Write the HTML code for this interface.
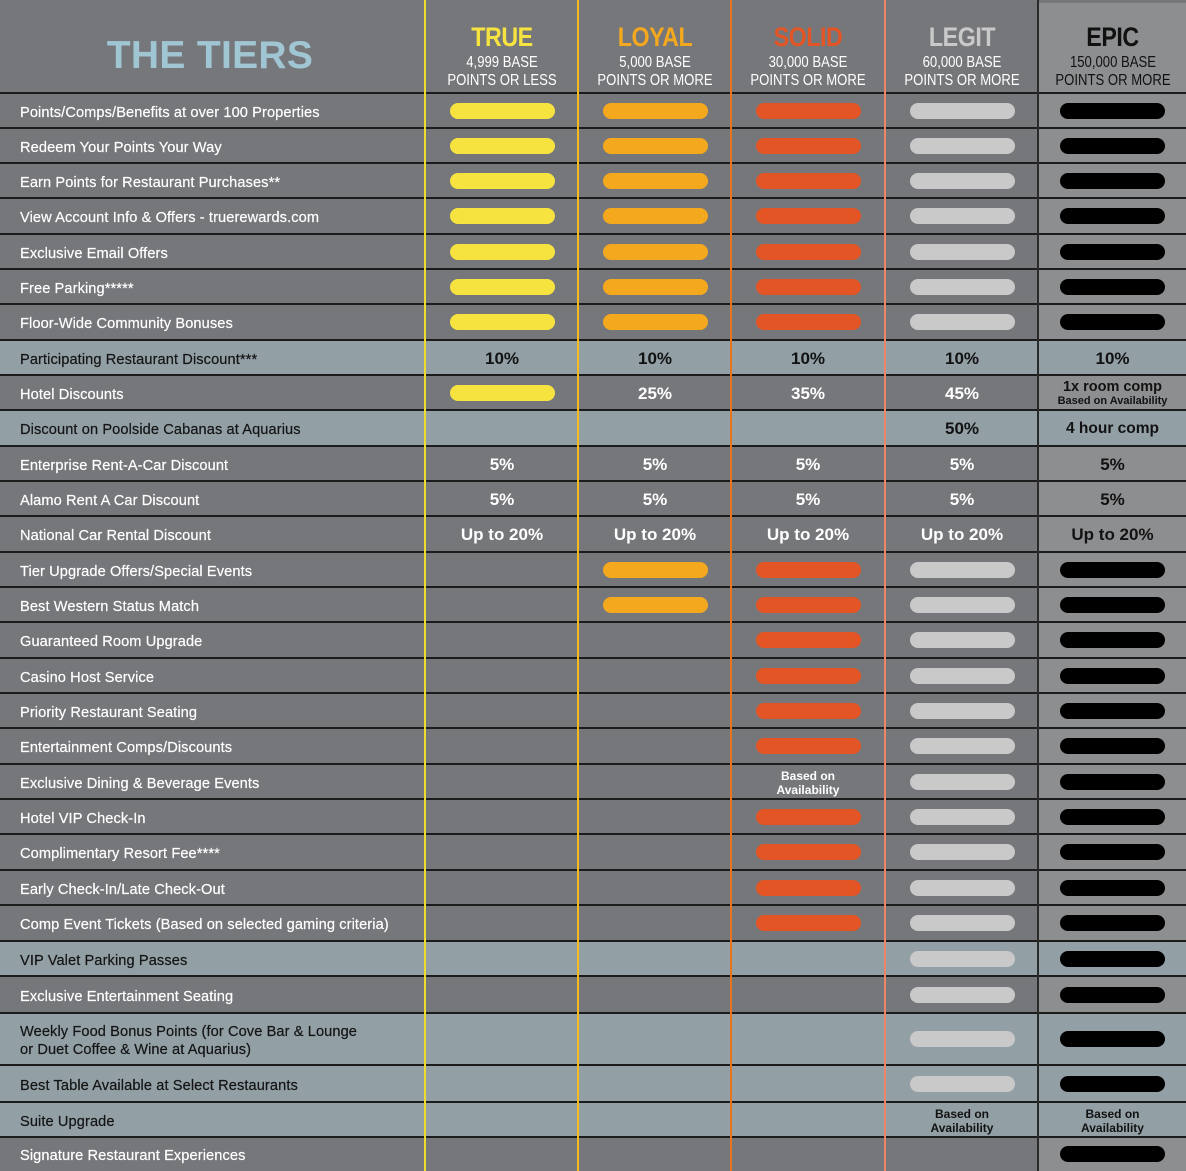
<!DOCTYPE html>
<html><head><meta charset="utf-8">
<style>
*{margin:0;padding:0;box-sizing:border-box}
html,body{width:1186px;height:1171px;overflow:hidden;background:#76777b}
body{position:relative;font-family:"Liberation Sans",sans-serif}
.epic{position:absolute;left:1039px;top:3px;width:147px;height:1168px;background:#8d8e90}
.row{position:absolute;left:0;width:1186px}
.b{background:#929fa5}
.hl{position:absolute;left:0;width:1186px;height:2px;background:#1c1c1c}
.vl{position:absolute;top:0;width:2px;height:1171px}
.lbl{position:absolute;left:20px;top:2px;height:100%;display:flex;align-items:center;font-size:14.6px;color:#fff;line-height:18px;letter-spacing:0.1px;-webkit-text-stroke:0.2px #fff}
.b .lbl{color:#141414;-webkit-text-stroke:0.2px #141414}
.c{position:absolute;top:0;height:100%;width:152px;display:flex;align-items:center;justify-content:center;flex-direction:column;font-weight:bold;font-size:17px;color:#fff;text-align:center;padding-top:2px}
.b .c,.c.e{color:#121212}
.t{left:426px}.l{left:579px}.s{left:732px}.g{left:886px}.e{left:1039px;width:147px}
.p{width:105px;height:16px;border-radius:8px;margin-top:-2px}
.t .p{background:#f6e340}.l .p{background:#f4a81d}.s .p{background:#e45526}.g .p{background:#c9c9c9}.e .p{background:#000}
.sm{font-size:12px;line-height:14px}
.hd{position:absolute;top:0;height:92px;width:152px;text-align:center}
.nm{position:absolute;top:22px;left:0;width:100%;font-size:27px;font-weight:bold;transform:scaleX(0.86);letter-spacing:-0.5px}
.sub{position:absolute;top:54px;left:-20px;width:192px;font-size:16px;line-height:18px;color:#fff;transform:scaleX(0.82)}
</style></head><body>
<div class="epic"></div>

<!-- header -->
<div style="position:absolute;left:0;top:34px;width:420px;text-align:center;font-size:39px;font-weight:bold;color:#a1c6d3;letter-spacing:0.3px">THE TIERS</div>
<div class="hd" style="left:426px"><div class="nm" style="color:#f6e340">TRUE</div><div class="sub">4,999 BASE<br>POINTS OR LESS</div></div>
<div class="hd" style="left:579px"><div class="nm" style="color:#f4a81d">LOYAL</div><div class="sub">5,000 BASE<br>POINTS OR MORE</div></div>
<div class="hd" style="left:732px"><div class="nm" style="color:#e45526">SOLID</div><div class="sub">30,000 BASE<br>POINTS OR MORE</div></div>
<div class="hd" style="left:886px"><div class="nm" style="color:#c9c9c9">LEGIT</div><div class="sub">60,000 BASE<br>POINTS OR MORE</div></div>
<div class="hd" style="left:1039px;width:147px"><div class="nm" style="color:#111">EPIC</div><div class="sub" style="color:#111;left:-22px">150,000 BASE<br>POINTS OR MORE</div></div>

<!-- rows -->
<div class="row" style="top:93px;height:35px"><div class="lbl">Points/Comps/Benefits at over 100 Properties</div><div class="c t"><div class="p"></div></div><div class="c l"><div class="p"></div></div><div class="c s"><div class="p"></div></div><div class="c g"><div class="p"></div></div><div class="c e"><div class="p"></div></div></div>
<div class="row" style="top:128px;height:35px"><div class="lbl">Redeem Your Points Your Way</div><div class="c t"><div class="p"></div></div><div class="c l"><div class="p"></div></div><div class="c s"><div class="p"></div></div><div class="c g"><div class="p"></div></div><div class="c e"><div class="p"></div></div></div>
<div class="row" style="top:163px;height:35px"><div class="lbl">Earn Points for Restaurant Purchases**</div><div class="c t"><div class="p"></div></div><div class="c l"><div class="p"></div></div><div class="c s"><div class="p"></div></div><div class="c g"><div class="p"></div></div><div class="c e"><div class="p"></div></div></div>
<div class="row" style="top:198px;height:36px"><div class="lbl">View Account Info &amp; Offers - truerewards.com</div><div class="c t"><div class="p"></div></div><div class="c l"><div class="p"></div></div><div class="c s"><div class="p"></div></div><div class="c g"><div class="p"></div></div><div class="c e"><div class="p"></div></div></div>
<div class="row" style="top:234px;height:35px"><div class="lbl">Exclusive Email Offers</div><div class="c t"><div class="p"></div></div><div class="c l"><div class="p"></div></div><div class="c s"><div class="p"></div></div><div class="c g"><div class="p"></div></div><div class="c e"><div class="p"></div></div></div>
<div class="row" style="top:269px;height:35px"><div class="lbl">Free Parking*****</div><div class="c t"><div class="p"></div></div><div class="c l"><div class="p"></div></div><div class="c s"><div class="p"></div></div><div class="c g"><div class="p"></div></div><div class="c e"><div class="p"></div></div></div>
<div class="row" style="top:304px;height:36px"><div class="lbl">Floor-Wide Community Bonuses</div><div class="c t"><div class="p"></div></div><div class="c l"><div class="p"></div></div><div class="c s"><div class="p"></div></div><div class="c g"><div class="p"></div></div><div class="c e"><div class="p"></div></div></div>
<div class="row b" style="top:340px;height:35px"><div class="lbl">Participating Restaurant Discount***</div><div class="c t">10%</div><div class="c l">10%</div><div class="c s">10%</div><div class="c g">10%</div><div class="c e">10%</div></div>
<div class="row" style="top:375px;height:35px"><div class="lbl">Hotel Discounts</div><div class="c t"><div class="p"></div></div><div class="c l">25%</div><div class="c s">35%</div><div class="c g">45%</div><div class="c e"><div style="font-size:14.5px;line-height:15px">1x room comp</div><div style="font-size:11px;line-height:12px">Based on Availability</div></div></div>
<div class="row b" style="top:410px;height:36px"><div class="lbl">Discount on Poolside Cabanas at Aquarius</div><div class="c g">50%</div><div class="c e" style="font-size:15.5px">4 hour comp</div></div>
<div class="row" style="top:446px;height:35px"><div class="lbl">Enterprise Rent-A-Car Discount</div><div class="c t">5%</div><div class="c l">5%</div><div class="c s">5%</div><div class="c g">5%</div><div class="c e">5%</div></div>
<div class="row" style="top:481px;height:35px"><div class="lbl">Alamo Rent A Car Discount</div><div class="c t">5%</div><div class="c l">5%</div><div class="c s">5%</div><div class="c g">5%</div><div class="c e">5%</div></div>
<div class="row" style="top:516px;height:36px"><div class="lbl">National Car Rental Discount</div><div class="c t">Up to 20%</div><div class="c l">Up to 20%</div><div class="c s">Up to 20%</div><div class="c g">Up to 20%</div><div class="c e">Up to 20%</div></div>
<div class="row" style="top:552px;height:35px"><div class="lbl">Tier Upgrade Offers/Special Events</div><div class="c l"><div class="p"></div></div><div class="c s"><div class="p"></div></div><div class="c g"><div class="p"></div></div><div class="c e"><div class="p"></div></div></div>
<div class="row" style="top:587px;height:35px"><div class="lbl">Best Western Status Match</div><div class="c l"><div class="p"></div></div><div class="c s"><div class="p"></div></div><div class="c g"><div class="p"></div></div><div class="c e"><div class="p"></div></div></div>
<div class="row" style="top:622px;height:36px"><div class="lbl">Guaranteed Room Upgrade</div><div class="c s"><div class="p"></div></div><div class="c g"><div class="p"></div></div><div class="c e"><div class="p"></div></div></div>
<div class="row" style="top:658px;height:35px"><div class="lbl">Casino Host Service</div><div class="c s"><div class="p"></div></div><div class="c g"><div class="p"></div></div><div class="c e"><div class="p"></div></div></div>
<div class="row" style="top:693px;height:35px"><div class="lbl">Priority Restaurant Seating</div><div class="c s"><div class="p"></div></div><div class="c g"><div class="p"></div></div><div class="c e"><div class="p"></div></div></div>
<div class="row" style="top:728px;height:36px"><div class="lbl">Entertainment Comps/Discounts</div><div class="c s"><div class="p"></div></div><div class="c g"><div class="p"></div></div><div class="c e"><div class="p"></div></div></div>
<div class="row" style="top:764px;height:35px"><div class="lbl">Exclusive Dining &amp; Beverage Events</div><div class="c s sm">Based on<br>Availability</div><div class="c g"><div class="p"></div></div><div class="c e"><div class="p"></div></div></div>
<div class="row" style="top:799px;height:35px"><div class="lbl">Hotel VIP Check-In</div><div class="c s"><div class="p"></div></div><div class="c g"><div class="p"></div></div><div class="c e"><div class="p"></div></div></div>
<div class="row" style="top:834px;height:36px"><div class="lbl">Complimentary Resort Fee****</div><div class="c s"><div class="p"></div></div><div class="c g"><div class="p"></div></div><div class="c e"><div class="p"></div></div></div>
<div class="row" style="top:870px;height:35px"><div class="lbl">Early Check-In/Late Check-Out</div><div class="c s"><div class="p"></div></div><div class="c g"><div class="p"></div></div><div class="c e"><div class="p"></div></div></div>
<div class="row" style="top:905px;height:36px"><div class="lbl">Comp Event Tickets (Based on selected gaming criteria)</div><div class="c s"><div class="p"></div></div><div class="c g"><div class="p"></div></div><div class="c e"><div class="p"></div></div></div>
<div class="row b" style="top:941px;height:35px"><div class="lbl">VIP Valet Parking Passes</div><div class="c g"><div class="p"></div></div><div class="c e"><div class="p"></div></div></div>
<div class="row" style="top:976px;height:37px"><div class="lbl">Exclusive Entertainment Seating</div><div class="c g"><div class="p"></div></div><div class="c e"><div class="p"></div></div></div>
<div class="row b" style="top:1013px;height:52px"><div class="lbl">Weekly Food Bonus Points (for Cove Bar &amp; Lounge<br>or Duet Coffee &amp; Wine at Aquarius)</div><div class="c g"><div class="p"></div></div><div class="c e"><div class="p"></div></div></div>
<div class="row b" style="top:1065px;height:37px"><div class="lbl">Best Table Available at Select Restaurants</div><div class="c g"><div class="p"></div></div><div class="c e"><div class="p"></div></div></div>
<div class="row b" style="top:1102px;height:35px"><div class="lbl">Suite Upgrade</div><div class="c g sm">Based on<br>Availability</div><div class="c e sm">Based on<br>Availability</div></div>
<div class="row" style="top:1137px;height:34px"><div class="lbl">Signature Restaurant Experiences</div><div class="c e"><div class="p"></div></div></div>

<!-- horizontal lines -->
<div class="hl" style="top:92px"></div><div class="hl" style="top:127px"></div><div class="hl" style="top:162px"></div><div class="hl" style="top:197px"></div><div class="hl" style="top:233px"></div><div class="hl" style="top:268px"></div><div class="hl" style="top:303px"></div><div class="hl" style="top:339px"></div><div class="hl" style="top:374px"></div><div class="hl" style="top:409px"></div><div class="hl" style="top:445px"></div><div class="hl" style="top:480px"></div><div class="hl" style="top:515px"></div><div class="hl" style="top:551px"></div><div class="hl" style="top:586px"></div><div class="hl" style="top:621px"></div><div class="hl" style="top:657px"></div><div class="hl" style="top:692px"></div><div class="hl" style="top:727px"></div><div class="hl" style="top:763px"></div><div class="hl" style="top:798px"></div><div class="hl" style="top:833px"></div><div class="hl" style="top:869px"></div><div class="hl" style="top:904px"></div><div class="hl" style="top:940px"></div><div class="hl" style="top:975px"></div><div class="hl" style="top:1012px"></div><div class="hl" style="top:1064px"></div><div class="hl" style="top:1101px"></div><div class="hl" style="top:1136px"></div>

<!-- vertical lines -->
<div class="vl" style="left:424px;background:#f0dc2c"></div>
<div class="vl" style="left:577px;background:#f5bb1e"></div>
<div class="vl" style="left:730px;background:#e8741d"></div>
<div class="vl" style="left:884px;background:#ee8567"></div>
<div class="vl" style="left:1037px;background:#2a2a2a"></div>
</body></html>
